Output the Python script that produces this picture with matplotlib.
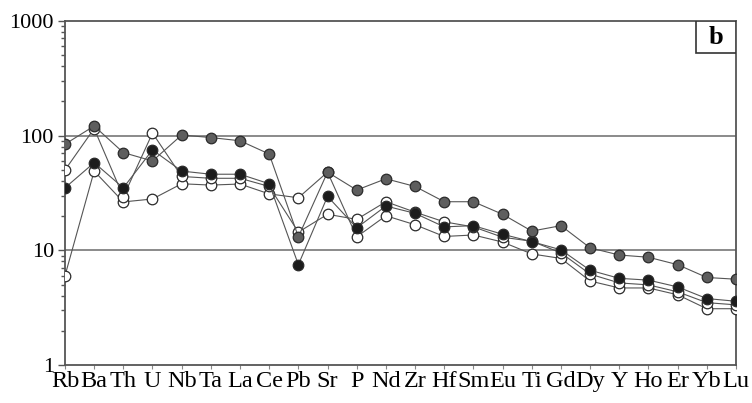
import numpy as np
import matplotlib.pyplot as plt
from matplotlib.patches import Rectangle
from matplotlib.ticker import FixedLocator, NullFormatter

elements = ['Rb', 'Ba', 'Th', 'U', 'Nb', 'Ta', 'La', 'Ce', 'Pb', 'Sr', 'P', 'Nd',
            'Zr', 'Hf', 'Sm', 'Eu', 'Ti', 'Gd', 'Dy', 'Y', 'Ho', 'Er', 'Yb', 'Lu']

# normalised concentrations
gray_sample = [84, 121, 71, 60, 101, 96, 90, 69, 13.1, 48, 33.5, 42,
               36, 26.5, 26.5, 20.6, 14.7, 16.4, 10.5, 9.1, 8.7, 7.5, 5.8, 5.6]
black_sample = [35, 58, 35, 75, 49, 46, 46, 38, 7.5, 29.5, 15.7, 24.3,
                21, 16, 16.4, 13.8, 11.9, 10.1, 6.7, 5.7, 5.5, 4.8, 3.8, 3.6]
white_a = [50, 115, 29.3, 105, 44, 42.4, 42.4, 36, 14.4, 20.6, 18.6, 26.5,
           21.5, 17.7, 16, 13, 12, 9.5, 6.2, 5.2, 5.0, 4.35, 3.5, 3.35]
white_b = [6, 49, 26.4, 28, 38, 37, 37.8, 31, 28.7, 48, 13.1, 20,
           16.7, 13.2, 13.6, 11.8, 9.3, 8.5, 5.4, 4.7, 4.7, 4.1, 3.1, 3.1]

plt.rcParams['font.family'] = ['Liberation Serif', 'DejaVu Serif']

fig = plt.figure(figsize=(7.52, 4.03), dpi=100)
ax = fig.add_axes([0.0864, 0.094, 0.8923, 0.8546])

x = np.arange(len(elements))
line_kw = dict(color='#555555', lw=0.8, marker='o', ms=7.6, mew=0.9, mec='#2a2a2a')

ax.plot(x, white_b, mfc='white', **line_kw, zorder=3)
ax.plot(x, white_a, mfc='white', **line_kw, zorder=3)
ax.plot(x, black_sample, mfc='#1c1c1c', **line_kw, zorder=4)
ax.plot(x, gray_sample, mfc='#5e5e5e', **line_kw, zorder=5)

ax.set_yscale('log')
ax.set_ylim(1, 1000)
ax.set_xlim(0, len(elements) - 1)

ax.set_xticks(x)
ax.set_xticklabels(elements, fontsize=17.5)
ax.set_yticks([1, 10, 100, 1000])
ax.set_yticklabels(['1', '10', '100', '1000'], fontsize=16)
minors = [m * 10 ** d for d in range(3) for m in range(2, 10)]
ax.yaxis.set_minor_locator(FixedLocator(minors))
ax.yaxis.set_minor_formatter(NullFormatter())

ax.tick_params(axis='y', which='major', length=5, width=1, color='#555555', pad=3)
ax.tick_params(axis='y', which='minor', length=3, width=1, color='#555555')
ax.tick_params(axis='x', which='major', length=3, width=0.8, color='#888888', pad=1)

for y in [10, 100]:
    ax.axhline(y, color='#8a8a8a', lw=1.4, zorder=1)

for s in ax.spines.values():
    s.set_color('#555555')
    s.set_linewidth(1.3)

# panel letter in a box stuck to the top-right corner
ax.add_patch(Rectangle((0.94, 0.906), 0.06, 0.094, transform=ax.transAxes,
                       fc='white', ec='#333333', lw=1.2, zorder=6))
ax.text(0.97, 0.951, 'b', transform=ax.transAxes, ha='center', va='center',
        fontsize=19, fontweight='bold', zorder=7)

fig.savefig('out.png', dpi=100)
